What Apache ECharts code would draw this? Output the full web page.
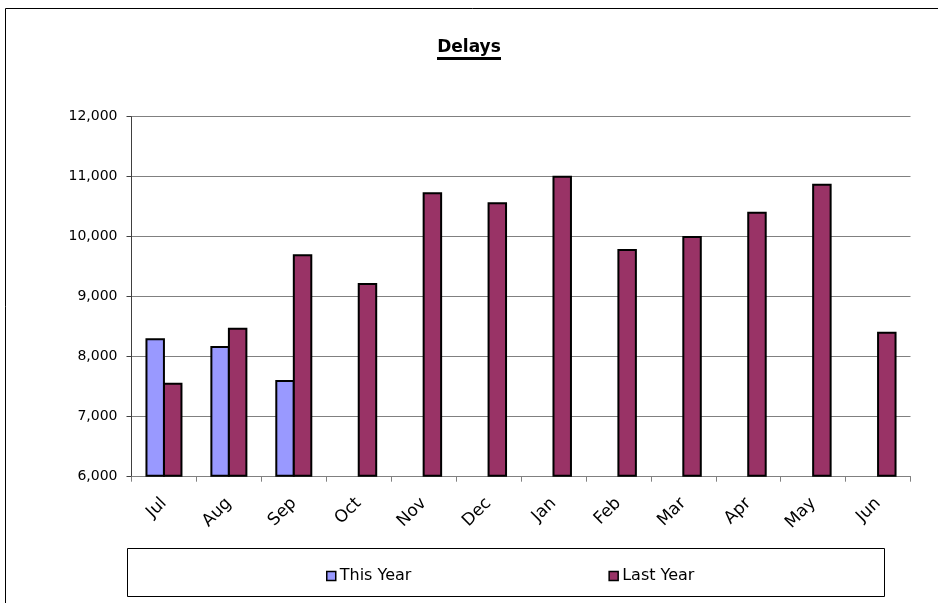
<!DOCTYPE html>
<html>
<head>
<meta charset="utf-8">
<script src="https://cdn.jsdelivr.net/npm/echarts@6/dist/echarts.min.js"></script>
<style>html,body{margin:0;padding:0;background:#fff}#c{width:938px;height:603px}</style>
</head>
<body>
<div id="c"></div>
<script>
var categories = ['Jul','Aug','Sep','Oct','Nov','Dec','Jan','Feb','Mar','Apr','May','Jun'];
var thisYear = [8306, 8178, 7612, 0, 0, 0, 0, 0, 0, 0, 0, 0];
var lastYear = [7567, 8483, 9708, 9228, 10740, 10573, 11017, 9795, 10012, 10417, 10883, 8417];
var yTicks = [6000, 12000, 1000]; // min, max, interval

var chart = echarts.init(document.getElementById('c'), null, {renderer: 'canvas'});
var font = 'DejaVu Sans';
chart.setOption({
  animation: false,
  backgroundColor: '#ffffff',
  title: {
    text: 'Delays', left: 'center', top: 34,
    textStyle: {fontFamily: font, fontWeight: 'bold', fontSize: 17, color: '#000'}
  },
  graphic: [
    {type: 'rect', shape: {x: 5.5, y: 8.5, width: 1000, height: 700}, style: {fill: 'none', stroke: '#000', lineWidth: 1}, silent: true},
    {type: 'rect', shape: {x: 437, y: 57, width: 64, height: 3}, style: {fill: '#000'}, silent: true},
    {type: 'rect', shape: {x: 127.5, y: 548.5, width: 757, height: 48}, style: {fill: 'none', stroke: '#000', lineWidth: 1}, silent: true}
  ],
  legend: {
    data: ['This Year', 'Last Year'],
    left: 321, top: 563,
    itemWidth: 9, itemHeight: 9, itemGap: 197,
    icon: 'rect',
    itemStyle: {borderColor: '#000', borderWidth: 1.5},
    textStyle: {fontFamily: font, fontSize: 16, color: '#000', padding: [0,0,0,-1]}
  },
  grid: {left: 131.5, right: 27.5, top: 116.7, bottom: 126.3, containLabel: false},
  xAxis: {
    type: 'category', data: categories,
    axisLine: {lineStyle: {color: '#808080', width: 1}},
    axisTick: {show: true, length: 5, inside: false, lineStyle: {color: '#808080'}},
    axisLabel: {rotate: 45, margin: 24, fontFamily: font, fontSize: 17, color: '#000'},
    splitLine: {show: false}
  },
  yAxis: {
    type: 'value', min: yTicks[0], max: yTicks[1], interval: yTicks[2], startValue: yTicks[0],
    axisLine: {show: true, lineStyle: {color: '#404040', width: 1}},
    axisTick: {show: true, length: 5, lineStyle: {color: '#404040'}},
    axisLabel: {margin: 14, fontFamily: font, fontSize: 14, color: '#000',
      formatter: function (v) { return v.toLocaleString('en-US'); }},
    splitLine: {show: true, lineStyle: {color: '#808080', width: 1}}
  },
  series: [
    {name: 'This Year', type: 'bar', data: thisYear, barGap: '-10%', barCategoryGap: '43%',
      itemStyle: {color: '#9999FF', borderColor: '#000', borderWidth: 2}},
    {name: 'Last Year', type: 'bar', data: lastYear, barGap: '-10%', barCategoryGap: '43%',
      itemStyle: {color: '#993366', borderColor: '#000', borderWidth: 2}}
  ]
});
</script>
</body>
</html>
